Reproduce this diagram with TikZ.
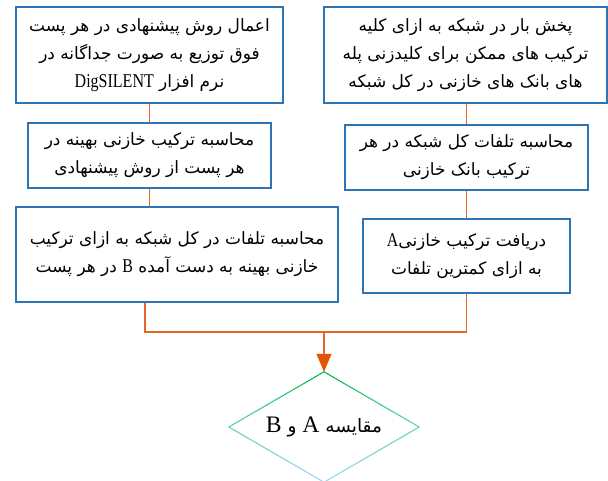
\documentclass[tikz,border=0pt]{standalone}
\usepackage{fontspec}
\setmainfont{Liberation Serif}
\newfontfamily\arabicfont[Script=Arabic,Scale=1.06]{DejaVu Sans}
\newfontfamily\latinbox[FakeStretch=0.82,Scale=1.22]{Liberation Serif}
\newfontfamily\latinbig[Scale=1.35]{Liberation Serif}
\TeXXeTstate=1
\usetikzlibrary{arrows.meta,shapes.geometric,calc}
\definecolor{boxblue}{RGB}{46,117,182}
\definecolor{conn}{RGB}{228,104,36}
\definecolor{arrowc}{RGB}{224,84,4}
\definecolor{dtop}{RGB}{0,185,80}
\definecolor{dmid}{RGB}{100,212,175}
\definecolor{dbot}{RGB}{160,215,245}
\newcommand{\fa}[1]{{\arabicfont\beginR #1\endR}}
\newcommand{\la}[1]{\beginL{\latinbox #1}\endL}
\newcommand{\lb}[1]{\beginL{\latinbig #1}\endL}
\tikzset{
  stepbox/.style={draw=boxblue, line width=1.2pt, inner sep=0pt, align=center,
    font=\fontsize{16}{28}\selectfont},
  connline/.style={draw=conn, line width=1.2pt},
}
\begin{document}
\begin{tikzpicture}[x=1pt,y=-1pt]
\useasboundingbox (0,0) rectangle (608,481);
% left column
\node[stepbox, minimum width=267pt, minimum height=96pt] (b1) at (149.5,55)
  {\fa{اعمال روش پیشنهادی در هر پست}\\\fa{فوق توزیع  به صورت جداگانه در}\\\fa{نرم افزار \la{DigSILENT}}};
\node[stepbox, minimum width=243pt, minimum height=65pt] (b2) at (149.5,155.5)
  {\fa{محاسبه ترکیب خازنی بهینه در}\\\fa{هر پست از روش پیشنهادی}};
\node[stepbox, minimum width=322pt, minimum height=95pt] (b3) at (177,254.5)
  {\fa{محاسبه تلفات در کل شبکه به ازای ترکیب}\\\fa{خازنی بهینه به دست آمده \la{B} در هر پست}};
% right column
\node[stepbox, minimum width=283pt, minimum height=96pt] (b4) at (465.5,55)
  {\fa{پخش بار در شبکه به ازای کلیه}\\\fa{ترکیب های ممکن برای کلیدزنی پله}\\\fa{های  بانک های خازنی در کل شبکه}};
\node[stepbox, minimum width=243pt, minimum height=65pt] (b5) at (466.5,157.5)
  {\fa{محاسبه تلفات کل شبکه در هر}\\\fa{ترکیب بانک خازنی}};
\node[stepbox, minimum width=207pt, minimum height=74pt] (b6) at (466.5,256)
  {\fa{دریافت ترکیب خازنی\la{A}}\\\fa{به ازای کمترین تلفات}};
% decision
\node[diamond, draw=none, shape aspect=1.727, minimum width=190pt, minimum height=110pt, inner sep=0pt,
  font=\fontsize{17.5}{28}\selectfont] (cmp) at (324,427) {\fa{مقایسه \lb{A} و \lb{B}}};
\foreach \s/\e/\ca/\cb in {north/west/dtop/dmid, north/east/dtop/dmid, west/south/dmid/dbot, east/south/dmid/dbot}{
  \foreach \i in {0,...,9}{
    \pgfmathtruncatemacro\pa{\i*10}
    \pgfmathtruncatemacro\pb{\i*10+10}
    \pgfmathtruncatemacro\pm{\i*10+5}
    \draw[draw=\cb!\pm!\ca, line width=1.1pt, line cap=round]
      ($(cmp.\s)!\pa/100!(cmp.\e)$) -- ($(cmp.\s)!\pb/100!(cmp.\e)$);
  }
}
% connectors
\coordinate (jl) at (145,332);
\coordinate (jc) at (324,332);
\draw[connline] (b1.south) -- (b2.north);
\draw[connline] (b2.south) -- (b2.south |- b3.north);
\draw[connline] (b4.south -| b5.north) -- (b5.north);
\draw[connline] (b5.south) -- (b6.north);
\draw[connline] (b3.south -| jl) -- (jl) -- (jl -| b6.south) -- (b6.south);
\draw[connline, -{Triangle[width=15pt,length=18pt,fill=arrowc,color=arrowc]}] (jc) -- (cmp.north);
\end{tikzpicture}
\end{document}
